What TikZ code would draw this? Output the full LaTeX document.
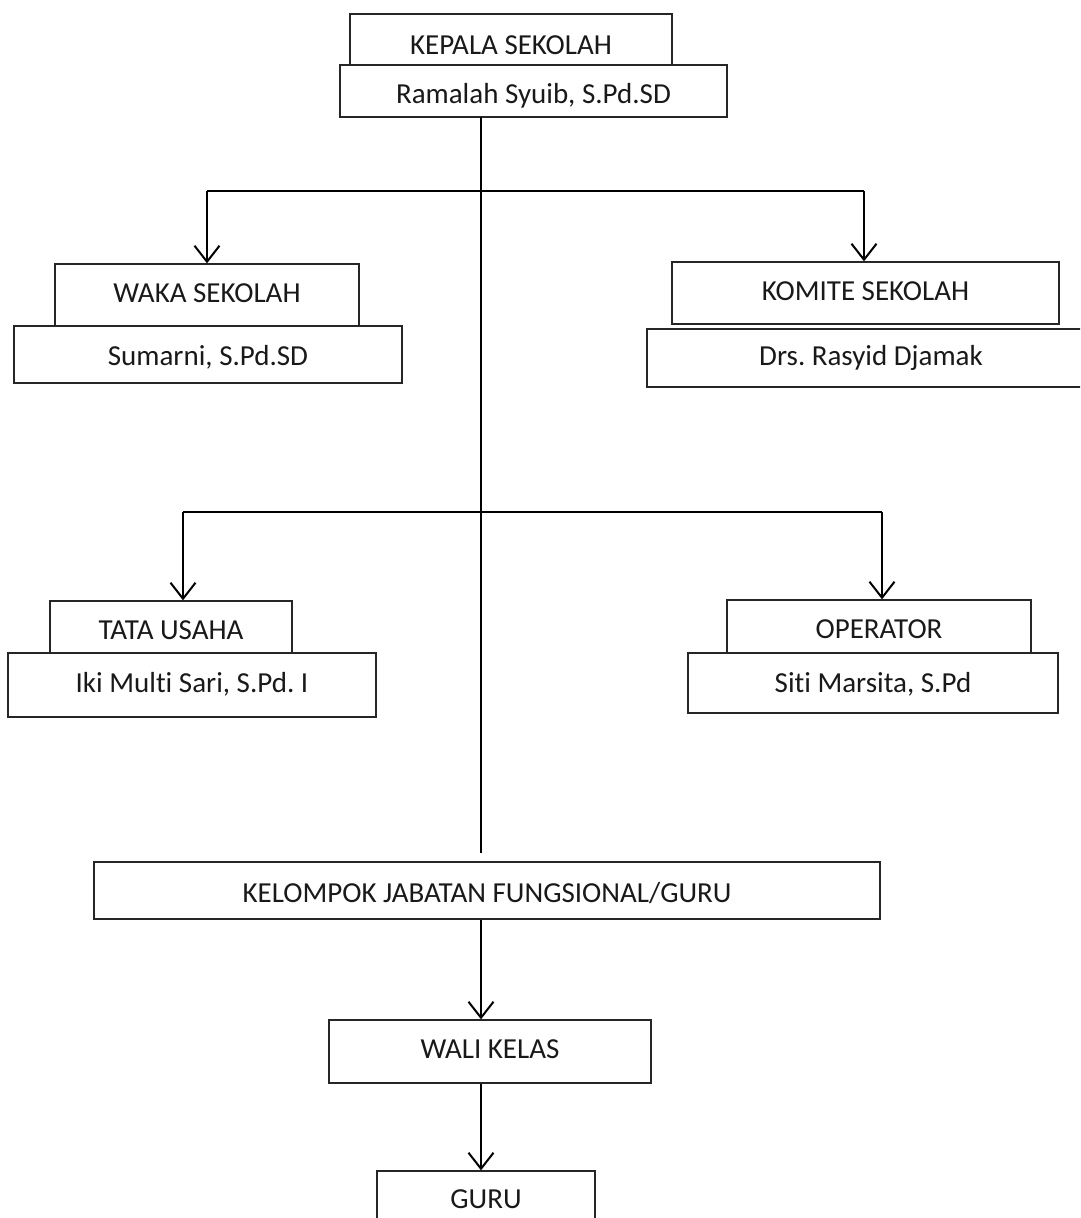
\documentclass[tikz,border=0pt]{standalone}
\usepackage{fontspec}
\setmainfont{Carlito}[Ligatures={NoCommon}]
\usetikzlibrary{arrows.meta}
\frenchspacing
\tikzset{
  orgbox/.style={draw=black!85, line width=1.3pt, rectangle, inner sep=0pt, align=center,
    font=\fontsize{29}{34}\selectfont, text=black!90, text height=19pt, text depth=0pt},
  link/.style={draw=black, line width=2.2pt},
  arr/.style={link, -{Straight Barb[length=16pt,width=25pt,line width=2pt]}}
}
\begin{document}
\begin{tikzpicture}[x=1pt,y=-1pt]
\useasboundingbox (0,0) rectangle (1080,1218);
\clip (0,0) rectangle (1080,1218);
% boxes
\node[orgbox, minimum width=322pt, minimum height=51pt, text height=29pt] (kepala) at (511,39.5) {KEPALA SEKOLAH};
\node[orgbox, minimum width=387pt, minimum height=52pt, text height=24pt] (ramalah) at (533.5,91) {Ramalah Syuib, S.Pd.SD};
\node[orgbox, minimum width=304pt, minimum height=62pt, text height=15pt] (waka) at (207,295) {WAKA SEKOLAH};
\node[orgbox, minimum width=388pt, minimum height=57pt, text height=21pt] (sumarni) at (208,354.5) {Sumarni, S.Pd.SD};
\node[orgbox, minimum width=387pt, minimum height=62pt, text height=15pt] (komite) at (865.5,293) {KOMITE SEKOLAH};
\node[orgbox, minimum width=448pt, minimum height=58pt, text height=15pt] (drs) at (871,358) {Drs. Rasyid Djamak};
\node[orgbox, minimum width=242pt, minimum height=52pt, text height=25pt] (tata) at (171,627) {TATA USAHA};
\node[orgbox, minimum width=368pt, minimum height=64pt, text height=15pt] (iki) at (192,685) {Iki Multi Sari, S.Pd. I};
\node[orgbox, minimum width=304pt, minimum height=53pt, text height=23pt] (operator) at (879,626.5) {OPERATOR};
\node[orgbox, minimum width=370pt, minimum height=60pt, text height=18pt] (siti) at (873,683) {Siti Marsita, S.Pd};
\node[orgbox, minimum width=786pt, minimum height=57pt, text height=23pt] (kelompok) at (487,890.5) {KELOMPOK JABATAN FUNGSIONAL/GURU};
\node[orgbox, minimum width=322pt, minimum height=63pt, text height=13pt] (wali) at (490,1051.5) {WALI KELAS};
\node[orgbox, minimum width=218pt, minimum height=62pt, text height=12pt] (guru) at (486,1202) {GURU};
% junction coordinates
\coordinate (t0) at (481,117);
\coordinate (t1) at (481,853);
\coordinate (h1l) at (207,191);
\coordinate (h1r) at (864,191);
\coordinate (h2l) at (183,512);
\coordinate (h2r) at (882,512);
% connectors
\draw[link] (t0) -- (t1);
\draw[link] (h1l) -- (h1r);
\draw[link] (h2l) -- (h2r);
\draw[arr] (h1l) -- (waka.north);
\draw[arr] (h1r) -- (h1r |- komite.north);
\draw[arr] (h2l) -- (h2l |- tata.north);
\draw[arr] (h2r) -- (h2r |- operator.north);
\draw[arr] (kelompok.south -| t0) -- (wali.north -| t0);
\draw[arr] (wali.south -| t0) -- (guru.north -| t0);
\end{tikzpicture}
\end{document}
